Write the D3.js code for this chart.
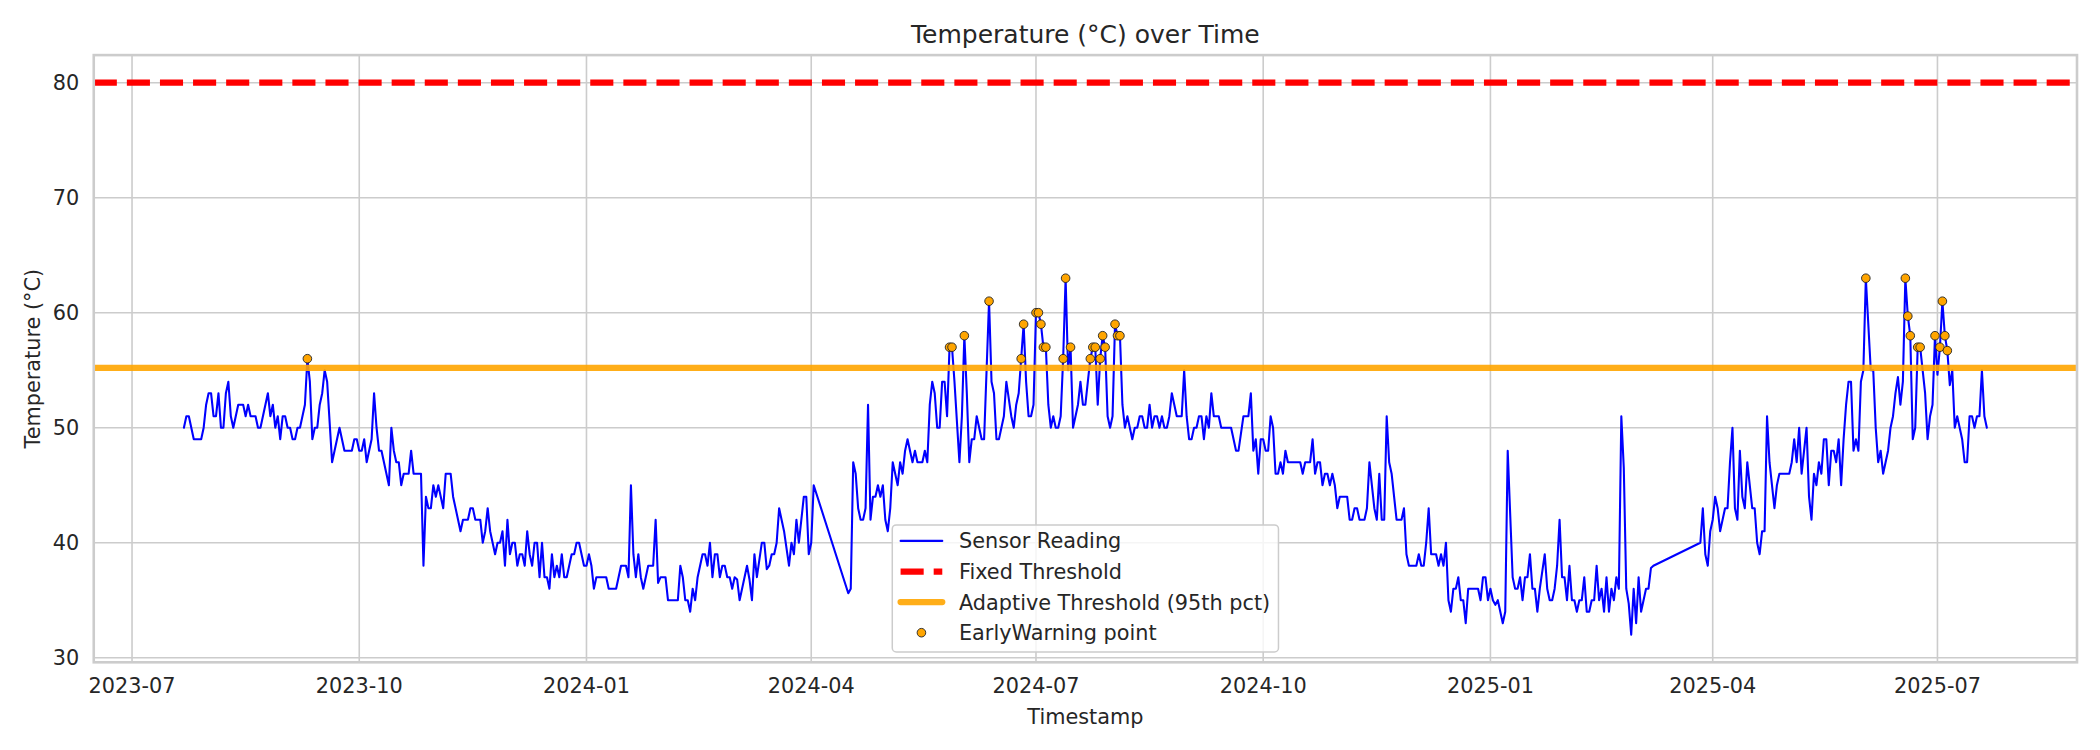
<!DOCTYPE html>
<html>
<head>
<meta charset="utf-8">
<title>Temperature over Time</title>
<script src="https://cdn.jsdelivr.net/npm/d3@7"></script>
<style>
  body { margin: 0; background: #fff; }
  svg { display: block; font-family: "DejaVu Sans", sans-serif; }
</style>
</head>
<body>
<svg id="chart" width="2100" height="750"></svg>
<script>
// readings: [days after startDate, temperature °C]
const startDate = "2023-07-01";
const readings = [
  [21,50],[22,51],[23,51],[25,49],[28,49],[29,50],[30,52],[31,53],[32,53],[33,51],[34,51],[35,53],[36,50],[37,50],
  [38,53],[39,54],[40,51],[41,50],[43,52],[45,52],[46,51],[47,52],[48,51],[50,51],[51,50],[52,50],[55,53],[56,51],
  [57,52],[58,50],[59,51],[60,49],[61,51],[62,51],[63,50],[64,50],[65,49],[66,49],[67,50],[68,50],[70,52],[71,56],
  [72,54],[73,49],[74,50],[75,50],[76,52],[77,53],[78,55],[79,54],[81,47],[84,50],[86,48],[87,48],[89,48],[90,49],
  [91,49],[92,48],[93,48],[94,49],[95,47],[97,49],[98,53],[99,50],[100,48],[101,48],[103,46],[104,45],[105,50],
  [106,48],[107,47],[108,47],[109,45],[110,46],[112,46],[113,48],[114,46],[117,46],[118,38],[119,44],[120,43],
  [121,43],[122,45],[123,44],[124,45],[126,43],[127,46],[129,46],[130,44],[133,41],[134,42],[136,42],[137,43],
  [138,43],[139,42],[141,42],[142,40],[143,41],[144,43],[145,41],[147,39],[148,40],[149,40],[150,41],[151,38],
  [152,42],[153,39],[154,40],[155,40],[156,38],[157,39],[158,39],[159,38],[160,41],[161,39],[162,38],[163,40],
  [164,40],[165,37],[166,40],[167,37],[168,37],[169,36],[170,39],[171,37],[172,38],[173,37],[174,39],[175,37],
  [176,37],[178,39],[179,39],[180,40],[181,40],[183,38],[184,38],[185,39],[186,38],[187,36],[188,37],[192,37],
  [193,36],[196,36],[198,38],[200,38],[201,37],[202,45],[203,39],[204,37],[205,39],[206,37],[207,36],[209,38],
  [211,38],[212,42],[213,36.5],[214,37],[216,37],[217,35],[221,35],[222,38],[223,37],[224,35],[225,35],[226,34],
  [227,36],[228,35],[229,37],[231,39],[232,39],[233,38],[234,40],[235,37],[236,39],[237,39],[238,37],[239,38],
  [240,38],[241,37],[242,37],[243,36],[244,37],[245,36.8],[246,35],[248,37],[249,38],[250,36.8],[251,35],[252,39],
  [253,37],[255,40],[256,40],[257,37.7],[258,38],[259,39],[260,39],[261,40],[262,43],[264,41],[266,38],[267,40],
  [268,39],[269,42],[270,40],[272,44],[273,44],[274,39],[275,40],[276,45],
  [290,35.6],[291,36],[292,47],[293,46],[294,43],[295,42],[296,42],[297,43],[298,52],[299,42],[300,44],[301,44],
  [302,45],[303,44],[304,45],[305,42],[306,41],[307,43],[308,47],[310,45],[311,47],[312,46],[313,48],[314,49],
  [316,47],[317,48],[318,47],[320,47],[321,48],[322,47],[323,52],[324,54],[325,53],[326,50],[327,50],[328,54],
  [329,54],[330,51],[331,57],[332,57],[333,54],[335,47],[336,51],[337,58],[338,53],[339,47],[340,49],[341,49],
  [342,51],[343,50],[344,49],[345,49],[347,61],[348,54],[349,53],[350,49],[351,49],[353,51],[354,54],[356,51],
  [357,50],[358,52],[359,53],[360,56],[361,59],[362,54],[363,51],[364,51],[365,52],[366,60],[367,60],[368,59],
  [369,57],[370,57],[371,52],[372,50],[373,51],[374,50],[375,50],[376,51],[377,56],[378,63],[379,55],[380,57],
  [381,50],[382,51],[383,52],[384,54],[385,52],[386,52],[388,56],[389,57],[390,57],[391,52],[392,56],[393,58],
  [394,57],[395,51],[396,50],[397,51],[398,59],[399,58],[400,58],[401,52],[402,50],[403,51],[404,50],[405,49],
  [406,50],[407,50],[408,51],[409,51],[410,50],[411,50],[412,52],[413,50],[414,51],[415,51],[416,50],[417,51],
  [418,50],[419,50],[420,51],[421,53],[422,52],[423,51],[425,51],[426,55],[427,51],[428,49],[429,49],[430,50],
  [431,50],[432,51],[433,51],[434,49],[435,51],[436,50],[437,53],[438,51],[440,51],[441,50],[445,50],[446,49],
  [447,48],[448,48],[450,51],[452,51],[453,53],[454,48],[455,49],[456,46],[457,49],[458,49],[459,48],[460,48],
  [461,51],[462,50],[463,46],[464,46],[465,47],[466,46],[467,48],[468,47],[473,47],[474,46],[475,47],[477,47],
  [478,49],[479,46],[480,47],[481,47],[482,45],[483,46],[484,46],[485,45],[486,46],[487,45],[488,43],[489,44],
  [492,44],[493,42],[494,42],[495,43],[496,43],[497,42],[499,42],[500,43],[501,47],[502,45],[503,43],[504,42],
  [505,46],[506,42],[507,42],[508,51],[509,47],[510,46],[512,42],[514,42],[515,43],[516,39],[517,38],[520,38],
  [521,39],[522,38],[523,38],[524,40],[525,43],[526,39],[528,39],[529,38],[530,39],[531,38],[532,40],[533,35],
  [534,34],[535,36],[536,36],[537,37],[538,35],[539,35],[540,33],[541,36],[545,36],[546,35],[547,37],[548,37],
  [549,35],[550,36],[551,35],[552,34.6],[553,35],[554,34],[555,33],[556,34],[557,48],[559,37],[560,36],[561,36],
  [562,37],[563,35],[564,37],[565,37],[566,39],[567,36],[568,36],[569,34],[570,36],[572,39],[573,36],[574,35],
  [575,35],[576,36],[577,38],[578,42],[579,37],[580,37],[581,35],[582,38],[583,35],[584,35],[585,34],[586,35],
  [587,35],[588,37],[589,34],[590,34],[591,35],[592,35],[593,38],[594,35],[595,36],[596,34],[597,37],[598,34],
  [599,36],[600,35],[601,37],[602,36],[603,51],[604,46.5],[605,36],[606,34.7],[607,32],[608,36],[609,33],[610,37],
  [611,34],[612,35],[613,36],[614,36],[615,37.8],[616,38],
  [635,40],[636,43],[637,39],[638,38],[639,41],[640,42],[641,44],[642,43],[643,41],[644,42],[645,43],[646,43],
  [647,47],[648,50],[649,43],[650,42],[651,48],[652,44],[653,43],[654,47],[655,45],[656,43],[657,43],[658,40],
  [659,39],[660,41],[661,41],[662,51],[663,47],[665,43],[666,45],[667,46],[669,46],[671,46],[672,47],[673,49],
  [674,47],[675,50],[676,46],[677,48],[678,50],[679,44],[680,42],[681,46],[682,45],[683,47],[684,46],[685,49],
  [686,49],[687,45],[688,48],[689,48],[690,47],[691,49],[692,45],[693,49],[694,52],[695,54],[696,54],[697,48],
  [698,49],[699,48],[700,54],[701,55],[702,63],[704,55],[705,55],[706,50],[707,47],[708,48],[709,46],[711,48],
  [712,50],[713,51],[714,53],[715,54.4],[716,52],[717,54],[718,63],[719,59.7],[720,58],[721,49],[722,50],[723,57],
  [724,57],[726,53],[727,49],[728,51],[729,52],[730,58],[731,54.6],[732,57],[733,61],[734,58],[735,56.7],[736,53.7],
  [737,55],[738,50],[739,51],[741,49],[742,47],[743,47],[744,51],[745,51],[746,50],[747,51],[748,51],[749,55],
  [750,51],[751,50]
];

const fixedThreshold = 80;
const adaptiveThreshold = 55.2;
const yTicks = [30, 40, 50, 60, 70, 80];
const chartTitle = "Temperature (°C) over Time";
const xLabel = "Timestamp";
const yLabel = "Temperature (°C)";
const legendLabels = ["Sensor Reading", "Fixed Threshold", "Adaptive Threshold (95th pct)", "EarlyWarning point"];

(function () {
  var svg = d3.select("#chart");
  var box = { left: 93.75, right: 2077, top: 55.1, bottom: 662.3 };
  var ink = "#262626", grid = "#cccccc";
  var fs = 20.8;

  var t0 = d3.utcParse("%Y-%m-%d")(startDate);
  var data = readings.map(function (r) { return { date: d3.utcDay.offset(t0, r[0]), temp: r[1] }; });
  var warnings = data.filter(function (d) { return d.temp > adaptiveThreshold; });

  // matplotlib-like 5% margins
  var ext = d3.extent(data, function (d) { return d.date; });
  var span = ext[1] - ext[0];
  var x = d3.scaleUtc()
    .domain([new Date(+ext[0] - 0.05 * span), new Date(+ext[1] + 0.05 * span)])
    .range([box.left, box.right]);

  var lo = Math.min(d3.min(data, function (d) { return d.temp; }), fixedThreshold),
      hi = Math.max(d3.max(data, function (d) { return d.temp; }), fixedThreshold),
      pad = (hi - lo) * 0.05;
  var y = d3.scaleLinear().domain([lo - pad, hi + pad]).range([box.bottom, box.top]);

  svg.append("rect").attr("width", 2100).attr("height", 750).attr("fill", "#fff");

  svg.append("defs").append("clipPath").attr("id", "plot-clip")
    .append("rect")
      .attr("x", box.left).attr("y", box.top)
      .attr("width", box.right - box.left).attr("height", box.bottom - box.top);

  var xTicks = x.ticks(d3.utcMonth.every(3));

  // grid
  var g = svg.append("g").attr("class", "grid");
  g.selectAll("line.v").data(xTicks).enter().append("line")
    .attr("x1", function (d) { return x(d); }).attr("x2", function (d) { return x(d); })
    .attr("y1", box.top).attr("y2", box.bottom)
    .attr("stroke", grid).attr("stroke-width", 1.6);
  g.selectAll("line.h").data(yTicks).enter().append("line")
    .attr("x1", box.left).attr("x2", box.right)
    .attr("y1", function (d) { return y(d); }).attr("y2", function (d) { return y(d); })
    .attr("stroke", grid).attr("stroke-width", 1.6);

  var plot = svg.append("g").attr("clip-path", "url(#plot-clip)");

  var line = d3.line()
    .x(function (d) { return x(d.date); })
    .y(function (d) { return y(d.temp); });

  plot.append("path")
    .datum(data)
    .attr("d", line)
    .attr("fill", "none")
    .attr("stroke", "#0000ff")
    .attr("stroke-width", 2.08)
    .attr("stroke-linejoin", "round")
    .attr("stroke-linecap", "round");

  plot.append("line")
    .attr("x1", box.left).attr("x2", box.right)
    .attr("y1", y(fixedThreshold)).attr("y2", y(fixedThreshold))
    .attr("stroke", "#ff0000").attr("stroke-width", 6.25)
    .attr("stroke-dasharray", "23.1 10");

  plot.append("line")
    .attr("x1", box.left).attr("x2", box.right)
    .attr("y1", y(adaptiveThreshold)).attr("y2", y(adaptiveThreshold))
    .attr("stroke", "#ffa500").attr("stroke-opacity", 0.9).attr("stroke-width", 6.25);

  plot.selectAll("circle.warn").data(warnings).enter().append("circle")
    .attr("class", "warn")
    .attr("cx", function (d) { return x(d.date); })
    .attr("cy", function (d) { return y(d.temp); })
    .attr("r", 4.3)
    .attr("fill", "#ffa500")
    .attr("stroke", "#222")
    .attr("stroke-width", 0.9);

  // spines
  svg.append("rect")
    .attr("x", box.left).attr("y", box.top)
    .attr("width", box.right - box.left).attr("height", box.bottom - box.top)
    .attr("fill", "none").attr("stroke", grid).attr("stroke-width", 2.6);

  // tick labels
  var fmt = d3.utcFormat("%Y-%m");
  svg.append("g").selectAll("text").data(xTicks).enter().append("text")
    .attr("x", function (d) { return x(d); })
    .attr("y", 693)
    .attr("text-anchor", "middle")
    .attr("font-size", fs).attr("fill", ink)
    .text(function (d) { return fmt(d); });

  svg.append("g").selectAll("text").data(yTicks).enter().append("text")
    .attr("x", box.left - 14.6)
    .attr("y", function (d) { return y(d) + 7.5; })
    .attr("text-anchor", "end")
    .attr("font-size", fs).attr("fill", ink)
    .text(function (d) { return d; });

  // labels and title
  svg.append("text")
    .attr("x", (box.left + box.right) / 2).attr("y", 724)
    .attr("text-anchor", "middle").attr("font-size", fs).attr("fill", ink)
    .text(xLabel);

  svg.append("text")
    .attr("transform", "translate(39.5," + ((box.top + box.bottom) / 2) + ") rotate(-90)")
    .attr("text-anchor", "middle").attr("font-size", fs).attr("fill", ink)
    .text(yLabel);

  svg.append("text")
    .attr("x", (box.left + box.right) / 2).attr("y", 42.6)
    .attr("text-anchor", "middle").attr("font-size", 25).attr("fill", ink)
    .text(chartTitle);

  // legend, lower center
  var pitch = 30.6, borderPad = 8.3, handleLen = 41.7, textPad = 16.7;
  var leg = svg.append("g").attr("class", "legend");
  var frame = leg.append("rect");
  var rows = leg.selectAll("g.row").data(legendLabels).enter().append("g").attr("class", "row");
  var labels = rows.append("text")
    .attr("font-size", fs).attr("fill", ink)
    .text(function (d) { return d; });

  var textW = d3.max(labels.nodes(), function (n) { return n.getComputedTextLength(); });
  var legW = borderPad * 2 + handleLen + textPad + textW,
      legH = 127,
      legX = (box.left + box.right) / 2 - legW / 2,
      legY = box.bottom - 10.4 - legH;

  frame.attr("x", legX).attr("y", legY).attr("width", legW).attr("height", legH)
    .attr("rx", 4).attr("fill", "#fff").attr("fill-opacity", 0.8)
    .attr("stroke", grid).attr("stroke-width", 1.5);

  var hx = legX + borderPad;
  rows.attr("transform", function (d, i) { return "translate(0," + (legY + 16 + i * pitch) + ")"; });
  labels.attr("x", hx + handleLen + textPad).attr("y", 7.5);

  rows.filter(function (d, i) { return i === 0; }).append("line")
    .attr("x1", hx).attr("x2", hx + handleLen)
    .attr("stroke", "#0000ff").attr("stroke-width", 2.08).attr("stroke-linecap", "round");
  rows.filter(function (d, i) { return i === 1; }).append("line")
    .attr("x1", hx).attr("x2", hx + handleLen)
    .attr("stroke", "#ff0000").attr("stroke-width", 6.25).attr("stroke-dasharray", "23.1 10");
  rows.filter(function (d, i) { return i === 2; }).append("line")
    .attr("x1", hx).attr("x2", hx + handleLen)
    .attr("stroke", "#ffa500").attr("stroke-opacity", 0.9)
    .attr("stroke-width", 6.25).attr("stroke-linecap", "round");
  rows.filter(function (d, i) { return i === 3; }).append("circle")
    .attr("cx", hx + handleLen / 2).attr("r", 4.3)
    .attr("fill", "#ffa500").attr("stroke", "#222").attr("stroke-width", 0.9);
})();
</script>
</body>
</html>
